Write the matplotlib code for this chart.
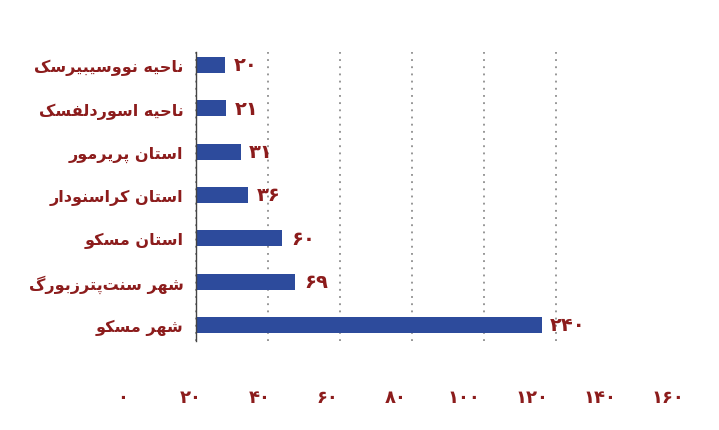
import matplotlib
matplotlib.use("Agg")
import matplotlib.pyplot as plt

# data
regions = ["ناحیه نووسیبیرسک", "ناحیه اسوردلفسک", "استان پریرمور", "استان کراسنودار",
           "استان مسکو", "شهر سنت‌پترزبورگ", "شهر مسکو"]
counts = [20, 21, 31, 36, 60, 69, 240]
bottom_ticks = [0, 20, 40, 60, 80, 100, 120, 140, 160]
grid_ticks = [0, 50, 100, 150, 200, 250]

RED = "#8C1C1C"
BLUE = "#2D4B9C"

# presentation forms: isolated, final, initial, medial (None = no left join)
FORMS = {
    "ا": ("\uFE8D", "\uFE8E", None, None),
    "ب": ("\uFE8F", "\uFE90", "\uFE91", "\uFE92"),
    "پ": ("\uFB56", "\uFB57", "\uFB58", "\uFB59"),
    "ت": ("\uFE95", "\uFE96", "\uFE97", "\uFE98"),
    "ح": ("\uFEA1", "\uFEA2", "\uFEA3", "\uFEA4"),
    "د": ("\uFEA9", "\uFEAA", None, None),
    "ر": ("\uFEAD", "\uFEAE", None, None),
    "ز": ("\uFEAF", "\uFEB0", None, None),
    "س": ("\uFEB1", "\uFEB2", "\uFEB3", "\uFEB4"),
    "ش": ("\uFEB5", "\uFEB6", "\uFEB7", "\uFEB8"),
    "ف": ("\uFED1", "\uFED2", "\uFED3", "\uFED4"),
    "ک": ("\uFB8E", "\uFB8F", "\uFB90", "\uFB91"),
    "گ": ("\uFB92", "\uFB93", "\uFB94", "\uFB95"),
    "ل": ("\uFEDD", "\uFEDE", "\uFEDF", "\uFEE0"),
    "م": ("\uFEE1", "\uFEE2", "\uFEE3", "\uFEE4"),
    "ن": ("\uFEE5", "\uFEE6", "\uFEE7", "\uFEE8"),
    "ه": ("\uFEE9", "\uFEEA", "\uFEEB", "\uFEEC"),
    "و": ("\uFEED", "\uFEEE", None, None),
    "ی": ("\uFBFC", "\uFBFD", "\uFBFE", "\uFBFF"),
}


def shape(text):
    out = []
    for i, ch in enumerate(text):
        if ch not in FORMS:
            if ch != "\u200c":
                out.append(ch)
            continue
        prev = text[i - 1] if i > 0 else ""
        nxt = text[i + 1] if i + 1 < len(text) else ""
        jp = prev in FORMS and FORMS[prev][2] is not None
        jn = FORMS[ch][2] is not None and nxt in FORMS
        iso, fin, ini, med = FORMS[ch]
        if jp and jn:
            out.append(med)
        elif jp:
            out.append(fin)
        elif jn:
            out.append(ini)
        else:
            out.append(iso)
    return "".join(reversed(out))


def fa_num(n):
    return str(n).translate(str.maketrans("0123456789", "۰۱۲۳۴۵۶۷۸۹"))


plt.rcParams["font.family"] = ["DejaVu Sans"]

fig = plt.figure(figsize=(7.19, 4.31), dpi=100)
ax = fig.add_axes([196 / 719, 89 / 431, 360 / 719, 289 / 431])

y = list(range(len(regions)))
ax.barh(y, counts, height=0.37, color=BLUE, zorder=2)
ax.set_xlim(0, 250)
ax.set_ylim(6.37, -0.3)

ax.set_xticks(grid_ticks)
ax.xaxis.grid(True, linestyle=(0, (1.2, 3.5)), color="#7a7a7a", linewidth=1.1, zorder=0)
for gl in ax.get_xgridlines():
    gl.set_clip_on(False)
ax.tick_params(axis="x", length=0, labelbottom=False)
ax.set_yticks(y)
ax.set_yticklabels([shape(r) for r in regions], color=RED, fontsize=11.5, fontweight="bold")
ax.tick_params(axis="y", length=0, pad=9)
for s in ["top", "right", "bottom"]:
    ax.spines[s].set_visible(False)
ax.spines["left"].set_color("#444444")
ax.spines["left"].set_linewidth(1.0)

for yi, v in zip(y, counts):
    ax.text(v + 6, yi, fa_num(v), va="center", ha="left", color=RED,
            fontsize=14, fontweight="bold")

# separate bottom scale, as in the original
ax2 = fig.add_axes([123 / 719, 42 / 431, 545 / 719, 0.001])
ax2.set_xlim(0, 160)
ax2.set_xticks(bottom_ticks)
ax2.set_xticklabels([fa_num(t) for t in bottom_ticks], color=RED, fontsize=13, fontweight="bold")
ax2.tick_params(axis="x", length=0, pad=0)
ax2.set_yticks([])
for s in ax2.spines.values():
    s.set_visible(False)
ax2.patch.set_visible(False)

fig.savefig("out.png", dpi=100)
